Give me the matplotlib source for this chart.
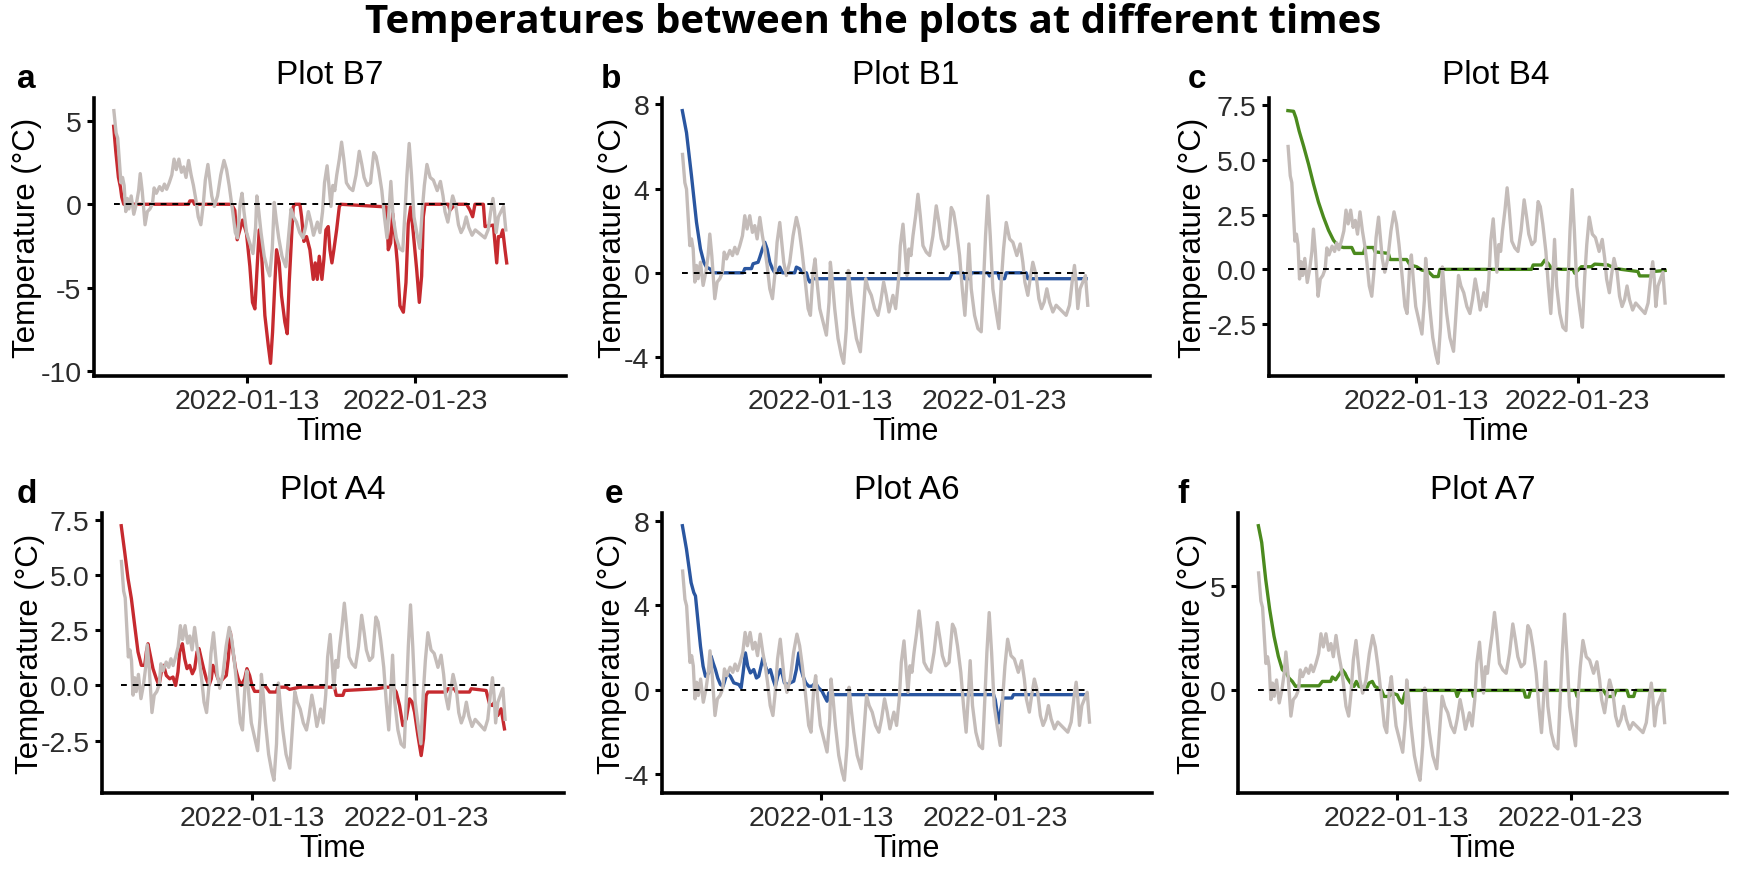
import matplotlib
matplotlib.use("Agg")
import matplotlib.pyplot as plt
from datetime import datetime, timedelta

plt.rcParams["font.family"] = ["Liberation Sans", "DejaVu Sans"]

START = datetime(2022, 1, 5)
AXIS_END = datetime(2022, 2, 1)

# air temperature, hours after START (grey line, same in every panel)
air_hours = [1.3, 4.5, 6.8, 9.0, 11.4, 13.7, 16.0, 18.3, 20.6, 22.9,
             26.1, 29.8, 33.5, 36.7, 39.0, 41.8, 45.9, 49.2, 52.9, 56.5,
             58.9, 62.1, 66.7, 70.4, 73.6, 76.8, 80.5, 84.2, 87.4, 90.6,
             94.3, 98.0, 101.2, 104.5, 108.2, 111.8, 115.1, 118.3, 122.0, 125.7,
             128.9, 132.1, 135.8, 138.6, 141.3, 145.0, 149.6, 154.2, 158.8, 162.5,
             166.2, 170.3, 175.0, 178.2, 181.9, 184.6, 187.4, 191.1, 195.7, 200.3,
             204.0, 205.8, 208.6, 211.8, 216.4, 221.0, 224.2, 227.9, 230.7, 233.5,
             237.1, 241.8, 247.3, 251.0, 254.7, 258.3, 262.5, 267.1, 271.7, 275.4,
             279.5, 283.2, 286.9, 290.1, 292.4, 296.1, 299.8, 302.6, 306.3, 309.0,
             311.8, 314.5, 317.3, 320.1, 323.8, 327.0, 330.2, 333.9, 338.5, 343.1,
             347.7, 352.3, 356.0, 359.2, 363.8, 368.4, 373.1, 376.3, 380.0, 384.6,
             388.3, 391.9, 394.7, 397.5, 400.7, 405.3, 409.9, 414.5, 417.7, 420.5,
             423.7, 427.0, 430.6, 435.2, 438.9, 442.2, 445.4, 449.1, 453.7, 458.3,
             463.8, 468.4, 472.1, 474.9, 479.0, 482.2, 485.9, 490.5, 494.2, 497.9,
             501.6, 505.3, 509.0, 513.6, 518.2, 522.8, 527.4, 532.0, 536.6, 540.3,
             543.5, 545.8, 548.1, 551.3, 555.0, 558.7, 561.9]
air_temp = [5.62, 4.28, 3.97, 2.71, 1.29, 1.61, 1.13, -0.44, 0.35, -0.28,
            0.50, -0.60, 0.03, 0.82, 1.84, 0.82, -1.23, -0.44, -0.28, 0.03,
            0.98, 0.66, 1.06, 0.82, 1.21, 0.90, 1.29, 1.76, 2.71, 2.08,
            2.71, 1.92, 2.24, 1.61, 2.63, 1.76, 1.13, 0.35, -0.76, -1.23,
            -0.13, 1.45, 2.39, 1.45, 0.50, -0.13, 0.50, 1.76, 2.63, 2.08,
            1.13, -0.13, -1.70, -2.02, 0.03, 0.66, -0.44, -1.70, -2.33, -2.96,
            -1.39, 0.50, -0.44, -1.70, -3.12, -3.91, -4.30, -2.65, 0.11, -0.91,
            -2.02, -3.12, -3.75, -2.02, -0.28, -0.76, -1.07, -1.70, -2.02, -1.39,
            -0.44, -1.07, -1.86, -1.39, -1.07, -1.70, -0.44, 1.29, 2.31, 1.13,
            -0.13, 1.13, 0.82, 1.76, 2.71, 3.73, 2.71, 1.29, 0.98, 0.82,
            1.76, 3.18, 2.39, 1.61, 1.13, 1.29, 3.10, 2.87, 2.08, 0.82,
            -0.76, -2.02, -0.44, 1.37, -0.76, -2.02, -2.65, -2.80, -0.44, 1.76,
            3.65, 1.76, -0.76, -1.86, -2.65, -0.44, 1.13, 2.39, 1.61, 1.45,
            0.82, 1.37, 0.50, -0.44, -1.07, -0.28, 0.50, -0.13, -1.23, -1.70,
            -1.39, -0.76, -1.39, -1.86, -1.54, -1.70, -1.86, -2.02, -1.54, -0.44,
            0.35, -0.44, -1.70, -0.76, -0.44, -0.13, -1.54]

# soil temperature per plot (hours after START, degC)
b7_hours = [1, 4.0, 7.8, 10.7, 12.6, 15.5, 108.0, 110.0, 114.7, 116.6,
            169.6, 174.3, 177.7, 181.5, 185.3, 191.0, 195.8, 199.6, 203.0, 206.3,
            209.2, 212.5, 217.3, 222.1, 225.4, 228.3, 231.6, 234.0, 237.8, 241.1,
            245.9, 249.3, 252.1, 255.5, 257.8, 260.2, 267.4, 269.8, 273.1, 276.9,
            281.7, 286.5, 289.3, 292.2, 295.1, 298.9, 301.7, 304.6, 307.9, 310.3,
            313.2, 316.0, 319.9, 323.7, 325.6, 391.4, 393.8, 397.2, 400.1, 403.4,
            406.7, 410.5, 415.4, 419.1, 422.4, 425.8, 429.6, 434.4, 438.2, 441.5,
            443.9, 446.3, 479.7, 482.1, 485.9, 491.6, 505.9, 510.7, 514.5, 517.8,
            529.8, 532.2, 544.1, 548.9, 551.3, 554.6, 557.5, 560.8, 563.2]
b7_temp = [4.68, 3.20, 1.62, 1.03, 0.43, 0, 0, 0.2, 0.2, 0,
           0, -0.36, -2.13, -1.54, -0.95, -1.74, -3.72, -5.89, -6.28, -3.72,
           -1.54, -2.92, -6.68, -8.46, -9.55, -7.67, -4.70, -2.73, -3.52, -5.49,
           -7.08, -7.77, -4.70, -1.94, -0.16, 0, 0, -0.75, -2.23, -1.94,
           -2.73, -4.51, -3.52, -4.51, -3.12, -4.51, -3.32, -1.54, -1.34, -2.73,
           -3.52, -2.73, -1.54, -0.16, 0, -0.16, -2.73, -2.33, -0.55, -1.94,
           -3.52, -6.09, -6.48, -4.70, -1.15, -0.16, -1.74, -3.91, -5.89, -4.31,
           -0.75, 0, 0, -0.36, -0.16, 0, 0, -0.36, -0.75, 0,
           0, -1.34, -1.25, -3.52, -1.94, -1.94, -1.54, -2.73, -3.52]

b1_hours = [1, 6.8, 13.7, 20.6, 26.1, 30.8, 34.4, 39.0, 43.7, 85.1,
            87.4, 96.6, 98.9, 105.8, 108.2, 111.8, 115.1, 118.3, 122.0, 125.7,
            128.9, 132.1, 135.8, 139.5, 156.5, 158.8, 163.4, 167.1, 172.7, 175.0,
            177.3, 181.9, 370.7, 374.4, 389.2, 391.5, 398.4, 400.7, 423.7, 426.0,
            430.6, 437.6, 439.9, 446.8, 449.1, 476.7, 479.0, 559.6]
b1_temp = [7.70, 6.65, 4.60, 2.40, 1.13, 0.50, 0.27, 0.19, 0, 0,
           0.20, 0.20, 0.43, 0.50, 0.74, 1.13, 1.45, 1.13, 0.50, 0.19,
           0, 0, 0.27, 0, 0, 0.27, 0.19, 0, 0, -0.28,
           -0.44, -0.28, -0.28, 0, 0, -0.28, -0.28, 0, 0, -0.15,
           0, 0, -0.28, -0.28, 0, 0, -0.28, -0.28]

b4_hours = [1, 9.4, 12.9, 17.8, 24.3, 31.7, 39.1, 46.5, 53.9, 61.4,
            68.8, 76.2, 83.6, 96.0, 100.0, 113.3, 115.8, 128.2, 130.6, 150.4,
            152.9, 177.6, 182.6, 192.5, 199.9, 209.8, 217.2, 224.6, 227.1, 363.2,
            365.7, 378.0, 383.0, 387.9, 392.9, 407.7, 412.7, 425.0, 427.6, 437.4,
            452.3, 457.2, 477.0, 486.9, 496.8, 521.5, 524.0, 541.3, 543.8, 562.0]
b4_temp = [7.26, 7.23, 6.93, 6.32, 5.64, 4.81, 3.90, 3.07, 2.39, 1.79,
           1.33, 1.06, 1.0, 1.0, 0.73, 0.73, 1.0, 1.0, 0.80, 0.73,
           0.45, 0.45, 0.20, 0.12, -0.03, -0.10, -0.33, -0.33, 0, 0,
           0.20, 0.20, 0.42, 0.27, 0.05, 0, 0, 0, -0.18, 0.12,
           0.12, 0.24, 0.20, 0.05, 0, -0.10, -0.30, -0.30, -0.10, -0.05]

a4_hours = [1, 6.0, 10.9, 15.8, 20.6, 25.5, 30.4, 35.3, 37.7, 40.1,
            43.5, 47.4, 52.3, 56.2, 59.6, 63.0, 66.9, 71.8, 76.6, 80.5,
            83.9, 86.4, 90.3, 93.7, 97.1, 101.0, 104.9, 108.3, 111.7, 114.6,
            118.0, 121.4, 125.3, 129.2, 132.6, 135.0, 138.9, 142.3, 145.8, 149.6,
            154.5, 157.4, 160.4, 164.3, 168.1, 172.0, 176.4, 181.3, 184.7, 188.6,
            192.0, 195.9, 205.6, 208.1, 212.9, 217.8, 227.5, 230.0, 242.1, 247.0,
            261.6, 312.7, 315.2, 324.9, 327.3, 373.6, 388.2, 397.9, 402.8, 407.7,
            412.5, 417.4, 422.3, 426.2, 429.6, 434.5, 439.3, 442.7, 446.6, 449.0,
            475.8, 478.2, 488.0, 490.4, 509.9, 512.3, 534.2, 539.1, 543.0, 546.4,
            551.3, 556.1, 561.0]
a4_temp = [7.24, 6.06, 4.85, 3.94, 2.73, 1.52, 0.91, 0.91, 1.52, 1.89,
           1.36, 0.76, 0.30, 0, 0.61, 0.91, 0.45, 0.30, 0.38, 0,
           0.61, 1.52, 1.89, 1.21, 0.76, 0.91, 0.53, 0.76, 1.52, 1.67,
           1.21, 0.76, 0.30, 0, 0.30, 0.91, 0.61, 0.30, 0.15, 0.30,
           0.45, 1.21, 2.42, 1.52, 0.76, 0.30, 0, 0.30, 0.76, 0.45,
           0, -0.27, -0.27, 0, -0.08, -0.30, -0.30, -0.08, -0.08, -0.18,
           -0.08, -0.08, -0.45, -0.45, -0.23, -0.15, -0.08, -0.08, -0.30, -0.91,
           -1.82, -1.52, -0.61, -0.76, -1.21, -2.27, -3.18, -2.42, -0.45, -0.30,
           -0.30, -0.15, -0.15, -0.30, -0.30, -0.15, -0.23, -0.83, -0.91, -0.76,
           -1.36, -1.06, -1.97]

a6_hours = [1, 6.6, 9.8, 13.0, 16.7, 19.0, 22.2, 25.9, 29.5, 32.8,
            37.3, 40.6, 43.3, 46.5, 49.7, 53.4, 57.1, 62.6, 67.2, 71.8,
            78.7, 81.9, 84.6, 87.8, 91.0, 94.7, 99.3, 103.0, 106.2, 109.4,
            112.2, 115.4, 118.6, 122.2, 125.9, 129.1, 132.3, 136.0, 138.3, 141.5,
            145.2, 149.8, 154.4, 158.0, 161.3, 164.5, 167.2, 170.9, 175.0, 179.6,
            184.2, 188.8, 193.4, 198.0, 200.3, 202.6, 209.4, 429.7, 432.0, 436.6,
            439.8, 442.6, 455.0, 457.2, 558.2]
a6_temp = [7.77, 6.66, 5.86, 5.07, 4.60, 4.44, 3.33, 2.06, 1.11, 0.63,
           0.79, 1.58, 1.27, 0.95, 0.55, 0.24, 0.16, 0.79, 0.63, 0.32,
           0.24, 0.08, 0.79, 1.74, 1.11, 0.79, 0.95, 0.55, 0.63, 1.11,
           1.51, 1.11, 0.79, 0.95, 0.48, 0.16, 0.63, 0.95, 0.79, 0.32,
           0.24, 0.32, 0.40, 0.95, 1.74, 0.95, 0.63, 0.32, 0.16, 0.16,
           0.32, 0.08, -0.08, -0.40, -0.55, -0.16, -0.24, -0.24, -0.48, -1.58,
           -0.95, -0.40, -0.40, -0.24, -0.24]

a7_hours = [1, 5.6, 11.1, 16.6, 22.6, 28.6, 34.1, 39.6, 43.3, 47.9,
            52.5, 57.1, 84.7, 89.3, 100.8, 103.1, 107.7, 112.3, 116.9, 120.5,
            123.8, 128.4, 133.0, 136.2, 139.9, 144.5, 151.4, 153.7, 158.3, 161.9,
            166.5, 171.1, 174.4, 181.2, 185.8, 192.7, 196.0, 199.6, 203.3, 206.5,
            273.2, 275.5, 278.7, 296.2, 298.0, 300.8, 367.5, 369.8, 374.4, 376.7,
            438.7, 441.0, 443.3, 477.8, 482.4, 491.6, 494.8, 510.0, 512.3, 519.2,
            521.5, 562.0]
a7_temp = [7.88, 7.08, 5.32, 3.88, 2.60, 1.63, 0.99, 0.83, 0.59, 0.43,
           0.19, 0.22, 0.22, 0.43, 0.43, 0.64, 0.51, 0.75, 0.99, 0.83,
           0.59, 0.35, 0.19, 0.43, 0.19, 0.16, 0.16, 0.35, 0.43, 0.19,
           0.11, 0, -0.29, -0.29, -0.13, -0.21, -0.45, -0.61, -0.13, 0,
           0, -0.29, 0, 0, -0.29, 0, 0, -0.32, -0.32, 0,
           0, -0.29, 0, 0, -0.29, -0.29, 0, 0, -0.29, -0.29,
           0, 0]

letters = ["a", "b", "c", "d", "e", "f"]
titles = ["Plot B7", "Plot B1", "Plot B4", "Plot A4", "Plot A6", "Plot A7"]
soil = [(b7_hours, b7_temp), (b1_hours, b1_temp), (b4_hours, b4_temp),
        (a4_hours, a4_temp), (a6_hours, a6_temp), (a7_hours, a7_temp)]
colors = ["#c62a2f", "#2a56a0", "#4b8a1e", "#c62a2f", "#2a56a0", "#4b8a1e"]
yticks = [[-10, -5, 0, 5], [-4, 0, 4, 8], [-2.5, 0, 2.5, 5, 7.5],
          [-2.5, 0, 2.5, 5, 7.5], [-4, 0, 4, 8], [0, 5]]
yticklabels = [["-10", "-5", "0", "5"], ["-4", "0", "4", "8"],
               ["-2.5", "0.0", "2.5", "5.0", "7.5"],
               ["-2.5", "0.0", "2.5", "5.0", "7.5"],
               ["-4", "0", "4", "8"], ["0", "5"]]
xticks = [datetime(2022, 1, 13), datetime(2022, 1, 23)]
AIR_COLOR = "#c4bcb9"

# layout in pixels (figure is 1746 x 870)
W, H = 1746, 870
rows = [(99, 377), (514, 794)]
cols = [[(94, 566), (662, 1150), (1269, 1723)],
        [(102, 564), (662, 1152), (1238, 1727)]]
letter_xy = [(17, 88), (601, 88), (1188, 88), (17, 503), (605, 503), (1177, 503)]
ylabel_x = [27, 613, 1193, 30, 612, 1192]


def to_time(hours):
    return [START + timedelta(hours=h) for h in hours]


all_h = air_hours + [h for hs, _ in soil for h in hs]
lo, hi = min(all_h), max(all_h)
pad = 0.05 * (hi - lo)
xlim = (START + timedelta(hours=lo - pad), AXIS_END)

fig = plt.figure(figsize=(W / 100, H / 100), dpi=100)
fig.text(0.5, 1 - 23 / H, "Temperatures between the plots at different times",
         ha="center", va="center", fontsize=29, fontweight="bold",
         family=["Open Sans", "DejaVu Sans"])

for i in range(6):
    r, c = divmod(i, 3)
    top, bottom = rows[r]
    left, right = cols[r][c]
    ax = fig.add_axes([left / W, 1 - bottom / H, (right - left) / W, (bottom - top) / H])

    hs, ts = soil[i]
    ax.plot(to_time(hs), ts, color=colors[i], lw=2.4, zorder=2)
    ax.plot(to_time(air_hours), air_temp, color=AIR_COLOR, lw=2.4, zorder=3)
    ax.plot(to_time([lo, hi]), [0, 0], color="black", lw=1.4,
            ls=(0, (3, 3)), zorder=4)

    ax.set_xlim(xlim)
    ax.set_xticks(xticks)
    ax.set_xticklabels([d.strftime("%Y-%m-%d") for d in xticks])
    ax.set_yticks(yticks[i])
    ax.set_yticklabels(yticklabels[i])

    for s in ["top", "right"]:
        ax.spines[s].set_visible(False)
    for s in ["left", "bottom"]:
        ax.spines[s].set_linewidth(2.6)
        ax.spines[s].set_color("black")
    ax.tick_params(direction="out", length=5, width=2.2, color="black",
                   labelsize=20.5, labelcolor="#2b2b2b", pad=4)

    ax.set_title(titles[i], fontsize=24, pad=11)
    ax.set_xlabel("Time", fontsize=22, labelpad=1)
    ax.set_ylabel("Temperature (\u00b0C)", fontsize=22.5)
    ax.yaxis.set_label_coords((ylabel_x[i] - left) / (right - left), 0.5)
    ax.yaxis.label.set_verticalalignment("center")

    lx, ly = letter_xy[i]
    fig.text(lx / W, 1 - ly / H, letters[i], fontsize=24, fontweight="bold",
             ha="left", va="baseline")

fig.savefig("out.png", dpi=100, facecolor="white")
